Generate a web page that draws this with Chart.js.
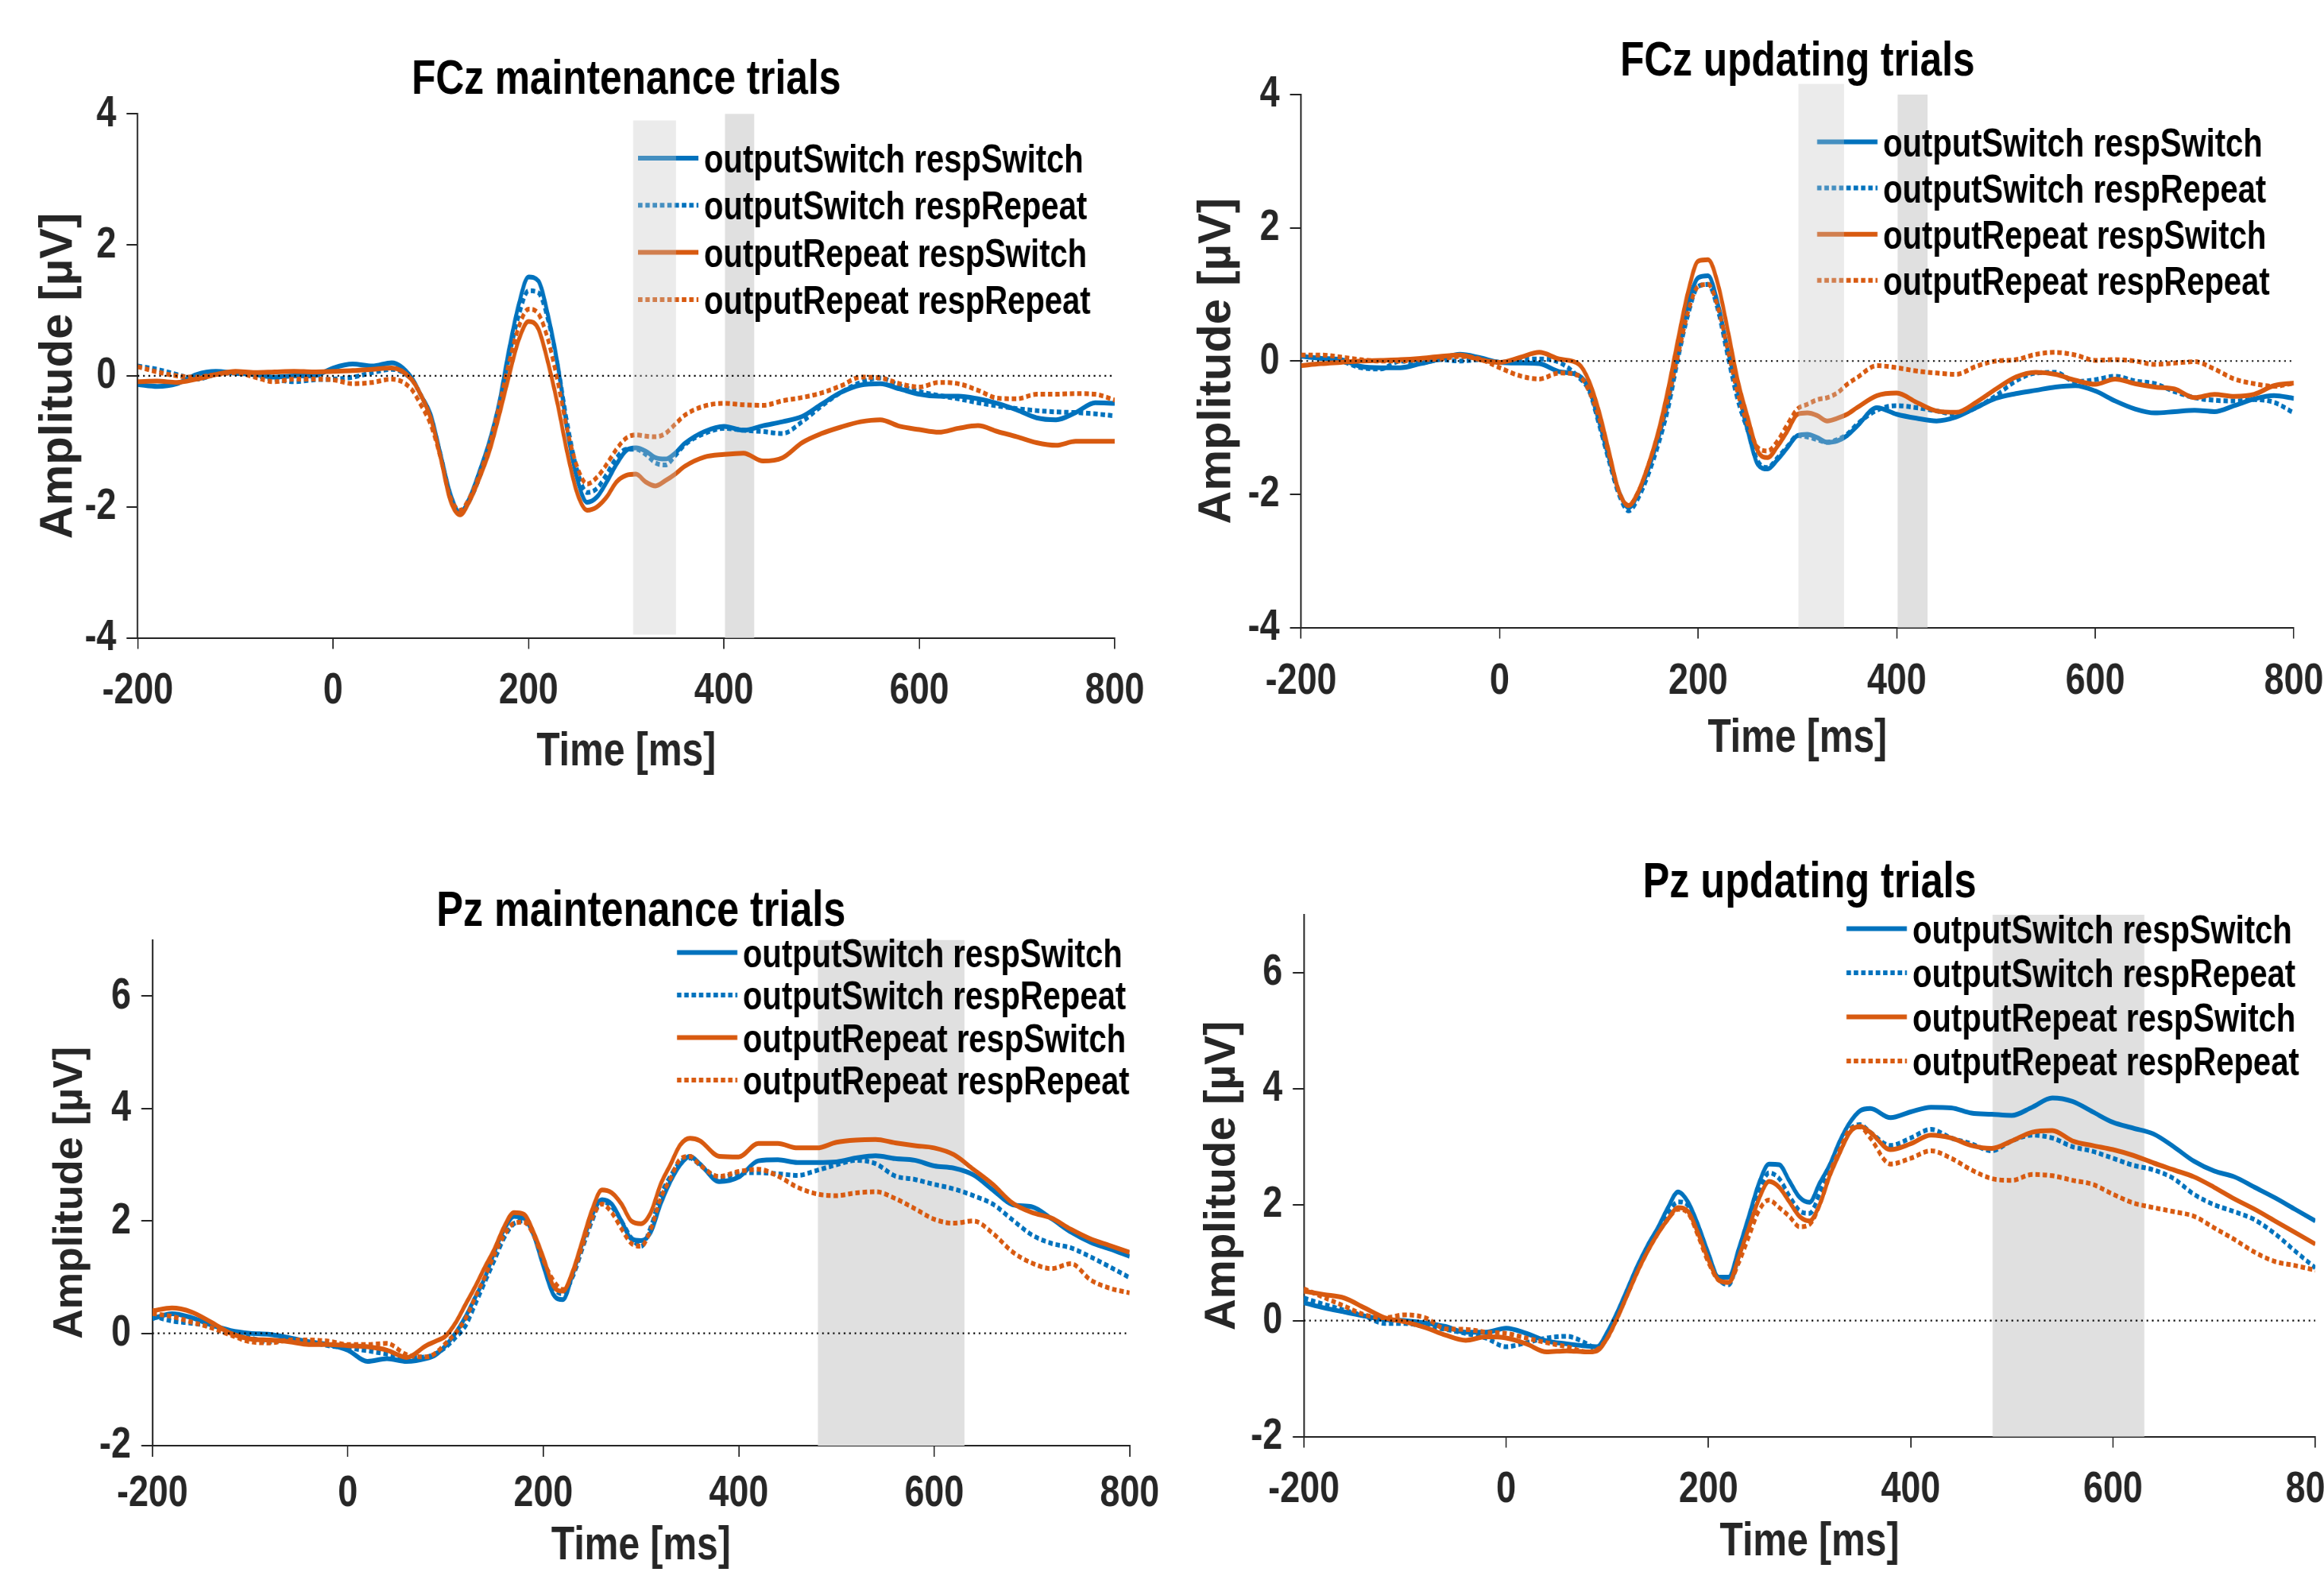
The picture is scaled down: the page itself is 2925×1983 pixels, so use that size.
<!DOCTYPE html>
<html>
<head>
<meta charset="utf-8">
<script src="https://cdn.jsdelivr.net/npm/chart.js@4.4.1/dist/chart.umd.min.js"></script>
<style>
html, body { margin: 0; padding: 0; background: #fff; width: 2925px; height: 1983px; overflow: hidden; }
canvas { position: absolute; }
</style>
</head>
<body>
<!-- canvases are drawn wider and squeezed to the panel width (narrow lettering) -->
<canvas id="fczMaint" width="1828" height="1000" style="left:0;top:0;width:1462px;height:1000px"></canvas>
<canvas id="fczUpd" width="1829" height="1000" style="left:1462px;top:0;width:1463px;height:1000px"></canvas>
<canvas id="pzMaint" width="1828" height="983" style="left:0;top:1000px;width:1462px;height:983px"></canvas>
<canvas id="pzUpd" width="1829" height="983" style="left:1462px;top:1000px;width:1463px;height:983px"></canvas>
<script>
// ERP grand averages, sampled at these latencies (ms)
const timeMs = [-200,-180,-160,-140,-120,-100,-80,-60,-40,-20,0,20,40,60,80,
  90,100,110,120,130,140,150,160,170,180,190,200,210,220,230,240,250,260,270,280,290,300,310,320,330,340,350,
  360,380,400,420,440,460,480,500,520,540,560,580,600,620,640,660,680,700,720,740,760,780,800];

const conditionLabels = ['outputSwitch respSwitch', 'outputSwitch respRepeat', 'outputRepeat respSwitch', 'outputRepeat respRepeat'];
const xTicksMs = [-200, 0, 200, 400, 600, 800];

// --- FCz maintenance ---
const fczMaintSwSw = [-0.13,-0.16,-0.12,0.02,0.07,0.04,0.02,-0.02,0.0,0.0,0.12,0.18,0.15,0.2,-0.02,
  -0.3,-0.6,-1.2,-1.8,-2.09,-1.85,-1.45,-1.0,-0.41,0.4,1.09,1.51,1.45,0.92,0.16,-0.86,-1.58,-1.93,-1.85,-1.62,-1.35,-1.14,-1.1,-1.15,-1.25,-1.27,-1.18,
  -1.03,-0.85,-0.77,-0.83,-0.76,-0.7,-0.62,-0.43,-0.25,-0.14,-0.12,-0.2,-0.28,-0.31,-0.31,-0.35,-0.42,-0.52,-0.64,-0.67,-0.56,-0.41,-0.42];
const fczMaintSwRp = [0.15,0.1,0.02,-0.05,0.02,0.05,0.0,-0.05,-0.09,-0.06,-0.05,-0.02,0.05,0.1,-0.05,
  -0.3,-0.65,-1.2,-1.82,-2.08,-1.9,-1.55,-1.1,-0.48,0.28,0.92,1.3,1.27,0.85,0.15,-0.75,-1.45,-1.78,-1.72,-1.5,-1.25,-1.12,-1.12,-1.2,-1.33,-1.36,-1.22,
  -1.05,-0.88,-0.8,-0.83,-0.85,-0.88,-0.7,-0.46,-0.25,-0.1,-0.03,-0.15,-0.24,-0.3,-0.35,-0.41,-0.46,-0.5,-0.53,-0.55,-0.56,-0.58,-0.61];
const fczMaintRpSw = [-0.09,-0.08,-0.1,-0.05,0.02,0.07,0.05,0.06,0.07,0.06,0.07,0.08,0.1,0.12,-0.05,
  -0.3,-0.65,-1.25,-1.9,-2.12,-1.9,-1.55,-1.15,-0.6,0.0,0.55,0.83,0.72,0.2,-0.45,-1.2,-1.8,-2.05,-2.0,-1.85,-1.62,-1.52,-1.5,-1.62,-1.68,-1.6,-1.5,
  -1.38,-1.24,-1.2,-1.18,-1.3,-1.25,-1.02,-0.88,-0.78,-0.7,-0.67,-0.77,-0.82,-0.86,-0.8,-0.76,-0.85,-0.93,-1.02,-1.06,-1.0,-1.0,-1.0];
const fczMaintRpRp = [0.14,0.06,0.0,-0.02,0.02,0.05,-0.02,-0.09,-0.05,-0.05,-0.06,-0.12,-0.1,-0.05,-0.2,
  -0.45,-0.75,-1.25,-1.85,-2.05,-1.85,-1.5,-1.05,-0.45,0.2,0.75,1.02,0.95,0.55,-0.1,-0.85,-1.4,-1.65,-1.55,-1.35,-1.12,-0.95,-0.9,-0.92,-0.93,-0.88,-0.74,
  -0.6,-0.46,-0.42,-0.44,-0.45,-0.38,-0.33,-0.26,-0.15,-0.02,-0.03,-0.12,-0.17,-0.1,-0.12,-0.22,-0.34,-0.35,-0.28,-0.28,-0.27,-0.28,-0.37];

// --- FCz updating ---
const fczUpdSwSw = [0.07,0.04,0.02,-0.08,-0.1,-0.1,-0.04,0.03,0.1,0.05,-0.02,-0.03,-0.04,-0.16,-0.22,
  -0.42,-0.9,-1.45,-1.95,-2.2,-1.98,-1.62,-1.15,-0.6,0.15,0.85,1.25,1.28,0.85,0.15,-0.45,-1.05,-1.55,-1.62,-1.48,-1.3,-1.12,-1.1,-1.15,-1.22,-1.2,-1.12,
  -0.98,-0.7,-0.8,-0.86,-0.9,-0.84,-0.7,-0.56,-0.49,-0.44,-0.39,-0.37,-0.45,-0.6,-0.72,-0.78,-0.76,-0.74,-0.76,-0.67,-0.57,-0.52,-0.56];
const fczUpdSwRp = [0.09,0.05,0.0,-0.1,-0.12,0.0,-0.03,0.02,0.0,0.02,-0.02,0.02,0.03,-0.02,-0.25,
  -0.45,-0.95,-1.5,-2.0,-2.25,-2.05,-1.7,-1.25,-0.7,0.05,0.7,1.12,1.15,0.75,0.05,-0.6,-1.05,-1.5,-1.6,-1.45,-1.28,-1.12,-1.14,-1.18,-1.22,-1.18,-1.1,
  -0.95,-0.74,-0.67,-0.7,-0.75,-0.8,-0.7,-0.52,-0.3,-0.18,-0.17,-0.31,-0.28,-0.23,-0.3,-0.34,-0.46,-0.55,-0.59,-0.6,-0.58,-0.62,-0.78];
const fczUpdRpSw = [-0.07,-0.04,-0.02,0.0,0.01,0.02,0.04,0.07,0.09,0.02,-0.02,0.05,0.13,0.03,-0.05,
  -0.3,-0.75,-1.35,-1.95,-2.17,-1.95,-1.55,-1.05,-0.4,0.35,1.05,1.5,1.52,1.15,0.45,-0.3,-0.85,-1.35,-1.45,-1.28,-1.05,-0.8,-0.78,-0.82,-0.9,-0.86,-0.8,
  -0.7,-0.52,-0.48,-0.62,-0.75,-0.77,-0.62,-0.42,-0.24,-0.17,-0.2,-0.29,-0.35,-0.27,-0.34,-0.39,-0.42,-0.55,-0.5,-0.53,-0.5,-0.37,-0.33];
const fczUpdRpRp = [0.09,0.09,0.06,0.02,0.0,0.0,0.02,0.03,0.07,0.03,-0.1,-0.22,-0.27,-0.18,-0.22,
  -0.45,-0.85,-1.4,-1.95,-2.17,-1.95,-1.55,-1.1,-0.55,0.1,0.75,1.12,1.15,0.8,0.15,-0.5,-0.95,-1.3,-1.35,-1.2,-0.95,-0.72,-0.65,-0.58,-0.55,-0.48,-0.35,
  -0.25,-0.07,-0.1,-0.15,-0.18,-0.2,-0.08,0.0,0.02,0.1,0.13,0.09,0.01,0.02,0.0,-0.05,-0.03,-0.01,-0.12,-0.27,-0.34,-0.38,-0.33];

// --- Pz maintenance ---
const pzMaintSwSw = [0.26,0.35,0.28,0.15,0.05,0.0,-0.02,-0.08,-0.15,-0.2,-0.3,-0.5,-0.45,-0.5,-0.45,
  -0.38,-0.22,0.0,0.28,0.63,0.98,1.45,1.85,2.08,2.05,1.75,1.2,0.7,0.6,1.05,1.6,2.1,2.38,2.3,2.0,1.68,1.65,1.8,2.3,2.7,3.0,3.15,
  3.02,2.7,2.78,3.07,3.09,3.04,3.04,3.05,3.12,3.16,3.11,3.08,2.98,2.94,2.82,2.55,2.29,2.25,2.04,1.8,1.62,1.5,1.37];
const pzMaintSwRp = [0.31,0.22,0.18,0.13,0.03,-0.08,-0.15,-0.12,-0.15,-0.22,-0.26,-0.31,-0.37,-0.43,-0.42,
  -0.36,-0.25,-0.08,0.12,0.5,0.9,1.3,1.7,1.95,2.0,1.78,1.25,0.82,0.7,1.0,1.5,2.0,2.35,2.25,2.0,1.7,1.55,1.9,2.45,2.8,3.05,3.12,
  3.0,2.76,2.85,2.86,2.84,2.81,2.9,3.0,3.08,3.02,2.8,2.74,2.65,2.57,2.45,2.3,2.02,1.75,1.6,1.52,1.36,1.18,0.99];
const pzMaintRpSw = [0.4,0.45,0.38,0.2,0.0,-0.1,-0.12,-0.15,-0.2,-0.2,-0.22,-0.24,-0.3,-0.43,-0.22,
  -0.14,-0.05,0.18,0.5,0.82,1.17,1.5,1.9,2.15,2.12,1.8,1.35,0.85,0.75,1.1,1.65,2.2,2.55,2.5,2.3,2.0,1.95,2.15,2.65,3.0,3.35,3.47,
  3.43,3.15,3.14,3.38,3.38,3.3,3.3,3.4,3.44,3.45,3.39,3.34,3.3,3.18,2.92,2.65,2.32,2.15,2.05,1.85,1.68,1.56,1.44];
const pzMaintRpRp = [0.35,0.3,0.2,0.1,-0.03,-0.15,-0.17,-0.12,-0.12,-0.14,-0.2,-0.2,-0.18,-0.38,-0.42,
  -0.35,-0.18,0.0,0.25,0.63,1.0,1.4,1.75,1.96,1.98,1.75,1.3,0.95,0.78,1.05,1.55,2.05,2.3,2.15,1.86,1.6,1.55,1.85,2.4,2.75,3.1,3.15,
  3.0,2.79,2.88,2.92,2.8,2.6,2.48,2.45,2.5,2.52,2.4,2.22,2.03,1.96,2.0,1.78,1.45,1.25,1.15,1.24,0.95,0.8,0.72];

// --- Pz updating ---
const pzUpdSwSw = [0.31,0.22,0.15,0.08,0.02,0.0,-0.04,-0.1,-0.2,-0.2,-0.13,-0.22,-0.35,-0.4,-0.44,
  -0.45,-0.2,0.15,0.55,0.95,1.3,1.6,1.95,2.22,2.04,1.64,1.16,0.75,0.75,1.24,1.8,2.37,2.7,2.69,2.41,2.13,2.04,2.37,2.69,3.1,3.42,3.62,
  3.66,3.5,3.6,3.68,3.67,3.58,3.56,3.54,3.68,3.84,3.78,3.6,3.42,3.32,3.22,3.0,2.75,2.58,2.48,2.3,2.12,1.92,1.72];
const pzUpdSwRp = [0.39,0.28,0.18,0.08,-0.05,-0.05,-0.1,-0.15,-0.22,-0.3,-0.45,-0.38,-0.3,-0.27,-0.4,
  -0.5,-0.25,0.1,0.5,0.9,1.25,1.55,1.85,2.05,1.98,1.62,1.12,0.72,0.62,1.1,1.65,2.2,2.55,2.45,2.15,1.9,1.85,2.2,2.65,3.0,3.3,3.38,
  3.25,3.02,3.15,3.3,3.15,3.05,2.93,3.1,3.2,3.15,3.0,2.92,2.8,2.68,2.6,2.45,2.18,2.0,1.88,1.74,1.5,1.2,0.91];
const pzUpdRpSw = [0.51,0.45,0.39,0.22,0.05,-0.02,-0.12,-0.25,-0.34,-0.28,-0.3,-0.4,-0.54,-0.52,-0.54,
  -0.52,-0.3,0.05,0.45,0.85,1.2,1.5,1.75,1.95,1.88,1.5,1.05,0.7,0.66,1.1,1.6,2.1,2.4,2.3,2.05,1.8,1.72,2.0,2.5,2.9,3.25,3.35,
  3.25,2.95,3.05,3.2,3.15,3.02,2.97,3.1,3.25,3.28,3.1,3.02,2.95,2.85,2.72,2.6,2.48,2.3,2.1,1.92,1.72,1.52,1.32];
const pzUpdRpRp = [0.55,0.4,0.25,0.1,0.05,0.1,0.05,-0.14,-0.15,-0.2,-0.22,-0.3,-0.38,-0.45,-0.54,
  -0.5,-0.3,0.05,0.45,0.85,1.2,1.5,1.75,1.92,1.85,1.45,1.0,0.7,0.66,1.0,1.45,1.9,2.08,1.95,1.8,1.62,1.66,2.0,2.55,2.95,3.3,3.34,
  3.15,2.7,2.8,2.93,2.8,2.6,2.45,2.42,2.52,2.5,2.42,2.35,2.18,2.03,1.95,1.88,1.8,1.6,1.4,1.18,1.02,0.95,0.87];

// analysis windows (ms)
const fczMaintWindows = [[307, 351], [401, 431]];
const fczUpdWindows = [[301, 347], [401, 431]];
const pzMaintWindow = [481, 631];
const pzUpdWindow = [481, 631];

const FONT = '"Liberation Sans", Arial, sans-serif';
const INK = '#262626';
const lineColors = ['#0072BD', '#0072BD', '#D85A10', '#D85A10'];

// shaded windows, y label and legend drawn inside the axes
const panelDecor = {
    id: 'panelDecor',
    beforeDatasetsDraw(chart, args, opts) {
        drawBands(chart, opts.under || []);
        drawYLabel(chart, opts.yLabel);
    },
    afterDatasetsDraw(chart, args, opts) {
        drawLegend(chart, opts.legend);
        drawBands(chart, opts.over || []);
    }
};

function drawBands(chart, bands) {
    const { ctx, scales: { x, y } } = chart;
    bands.forEach(b => {
        const x1 = x.getPixelForValue(b.from), x2 = x.getPixelForValue(b.to);
        const y1 = y.getPixelForValue(b.top), y2 = y.getPixelForValue(b.bottom);
        ctx.save();
        ctx.fillStyle = b.color;
        ctx.fillRect(x1, y1, x2 - x1, y2 - y1);
        ctx.restore();
    });
}

// rotated label, stretched back so the squeeze doesn't thin it
function drawYLabel(chart, yl) {
    const { ctx, chartArea } = chart;
    ctx.save();
    ctx.translate(yl.x, (chartArea.top + chartArea.bottom) / 2);
    ctx.scale(1 / yl.squeeze, 1);
    ctx.rotate(-Math.PI / 2);
    ctx.fillStyle = INK;
    ctx.font = 'bold ' + yl.size + 'px ' + FONT;
    ctx.textAlign = 'center';
    ctx.textBaseline = 'middle';
    ctx.fillText('Amplitude [µV]', 0, 0);
    ctx.restore();
}

function drawLegend(chart, lg) {
    const ctx = chart.ctx;
    const items = chart.data.datasets.filter(d => d.inLegend);
    ctx.save();
    items.forEach((ds, i) => {
        const yy = lg.y + i * lg.gap;
        ctx.strokeStyle = ds.borderColor;
        ctx.lineWidth = ds.borderWidth;
        ctx.setLineDash(ds.borderDash);
        ctx.beginPath();
        ctx.moveTo(lg.x, yy);
        ctx.lineTo(lg.x + lg.len, yy);
        ctx.stroke();
        ctx.setLineDash([]);
        ctx.fillStyle = '#000';
        ctx.font = 'bold 50px ' + FONT;
        ctx.textBaseline = 'alphabetic';
        ctx.textAlign = 'left';
        ctx.fillText(ds.label, lg.x + lg.len + lg.gapText, yy + 18);
    });
    ctx.restore();
}

function buildPanel(p) {
    const canvas = document.getElementById(p.id);
    const k = canvas.width / parseFloat(canvas.style.width);   // css px -> canvas px (horizontal)
    const ctx = canvas.getContext('2d');

    const datasets = [{
        label: 'baseline',
        data: [{ x: -200, y: 0 }, { x: 800, y: 0 }],
        borderColor: '#000', borderWidth: 2.2, borderDash: [2.5, 6],
        pointRadius: 0, order: 0
    }];
    p.series.forEach((s, i) => {
        datasets.push({
            label: conditionLabels[i],
            inLegend: true,
            data: timeMs.map((t, j) => ({ x: t, y: s[j] })),
            borderColor: lineColors[i],
            borderWidth: 6,
            borderDash: i % 2 ? [7, 4.5] : [],
            pointRadius: 0,
            cubicInterpolationMode: 'monotone',
            order: 4 - i
        });
    });

    return new Chart(ctx, {
        type: 'line',
        data: { datasets },
        plugins: [panelDecor],
        options: {
            responsive: false,
            animation: false,
            events: [],
            layout: { padding: { left: 0, top: 0, right: canvas.width - p.area.right * k, bottom: 0 } },
            plugins: {
                legend: { display: false },
                tooltip: { enabled: false },
                title: {
                    display: true, text: p.title, color: '#000', fullSize: false,
                    font: { family: FONT, weight: 'bold', size: p.titleSize, lineHeight: 1.0 },
                    padding: { top: p.titleY - p.titleSize / 2, bottom: p.area.top - p.titleY - p.titleSize / 2 }
                },
                panelDecor: {
                    under: p.under, over: p.over,
                    yLabel: { x: p.yTitleX * k, size: p.yTitleSize, squeeze: 1 / k },
                    legend: { x: p.legend.x * k, y: p.legend.y, gap: p.legend.gap, len: 76 * k, gapText: 7 * k }
                }
            },
            scales: {
                x: {
                    type: 'linear', min: -200, max: 800,
                    afterBuildTicks: s => { s.ticks = xTicksMs.map(v => ({ value: v })); },
                    ticks: { color: INK, font: { family: FONT, weight: 'bold', size: 56, lineHeight: 1.0 }, padding: p.xTickPad, maxRotation: 0, autoSkip: false },
                    grid: { drawOnChartArea: false, tickLength: 14, color: INK, lineWidth: 2 },
                    border: { color: INK, width: 2 },
                    title: {
                        display: true, text: 'Time [ms]', color: INK,
                        font: { family: FONT, weight: 'bold', size: 60, lineHeight: 1.0 },
                        padding: { top: 0, bottom: p.h - p.xTitleY - 30 }
                    },
                    afterFit: s => { s.height = p.h - p.area.bottom; s.paddingLeft = 0; s.paddingRight = 0; }
                },
                y: {
                    type: 'linear', min: p.yMin, max: p.yMax,
                    afterBuildTicks: s => { s.ticks = s.ticks.filter(t => t.value % 2 === 0); },
                    ticks: { stepSize: 2, color: INK, font: { family: FONT, weight: 'bold', size: 56, lineHeight: 1.0 }, padding: 13 * k },
                    grid: { drawOnChartArea: false, tickLength: 14 * k, color: INK, lineWidth: 2 },
                    border: { color: INK, width: 2.4 },
                    afterFit: s => { s.width = p.area.left * k; s.paddingTop = 0; s.paddingBottom = 0; }
                }
            }
        }
    });
}

const overlay = 'rgba(198,198,198,0.35)';
const shade = '#e0e0e0';

buildPanel({
    id: 'fczMaint', title: 'FCz maintenance trials', h: 1000,
    series: [fczMaintSwSw, fczMaintSwRp, fczMaintRpSw, fczMaintRpRp],
    yMin: -4, yMax: 4,
    area: { left: 173.3, top: 143.3, right: 1403, bottom: 802.6 },
    titleY: 101, titleSize: 62, xTitleY: 946, xTickPad: 25, yTitleX: 74, yTitleSize: 58,
    under: [{ from: fczMaintWindows[1][0], to: fczMaintWindows[1][1], top: 4, bottom: -4, color: shade }],
    over: [{ from: fczMaintWindows[0][0], to: fczMaintWindows[0][1], top: 3.9, bottom: -3.95, color: overlay }],
    legend: { x: 803, y: 199, gap: 59.3 }
});

buildPanel({
    id: 'fczUpd', title: 'FCz updating trials', h: 1000,
    series: [fczUpdSwSw, fczUpdSwRp, fczUpdRpSw, fczUpdRpRp],
    yMin: -4, yMax: 4,
    area: { left: 175.5, top: 119, right: 1425, bottom: 789.5 },
    titleY: 78, titleSize: 62, xTitleY: 929, xTickPad: 26, yTitleX: 70, yTitleSize: 58,
    under: [{ from: fczUpdWindows[1][0], to: fczUpdWindows[1][1], top: 4, bottom: -4, color: shade }],
    over: [{ from: fczUpdWindows[0][0], to: fczUpdWindows[0][1], top: 4.16, bottom: -4, color: overlay }],
    legend: { x: 825, y: 178.5, gap: 58.1 }
});

buildPanel({
    id: 'pzMaint', title: 'Pz maintenance trials', h: 983,
    series: [pzMaintSwSw, pzMaintSwRp, pzMaintRpSw, pzMaintRpRp],
    yMin: -2, yMax: 7,
    area: { left: 191.8, top: 182.8, right: 1421.8, bottom: 819 },
    titleY: 148, titleSize: 63, xTitleY: 945.6, xTickPad: 19, yTitleX: 88.6, yTitleSize: 52,
    under: [{ from: pzMaintWindow[0], to: pzMaintWindow[1], top: 7, bottom: -2, color: shade }],
    over: [],
    legend: { x: 852, y: 198.6, gap: 53.5 }
});

buildPanel({
    id: 'pzUpd', title: 'Pz updating trials', h: 983,
    series: [pzUpdSwSw, pzUpdSwRp, pzUpdRpSw, pzUpdRpRp],
    yMin: -2, yMax: 7,
    area: { left: 179, top: 151, right: 1452, bottom: 807.6 },
    titleY: 112, titleSize: 63, xTitleY: 940, xTickPad: 25, yTitleX: 76.5, yTitleSize: 55,
    under: [{ from: pzUpdWindow[0], to: pzUpdWindow[1], top: 7, bottom: -2, color: shade }],
    over: [],
    legend: { x: 862, y: 168.5, gap: 55.5 }
});
</script>
</body>
</html>
